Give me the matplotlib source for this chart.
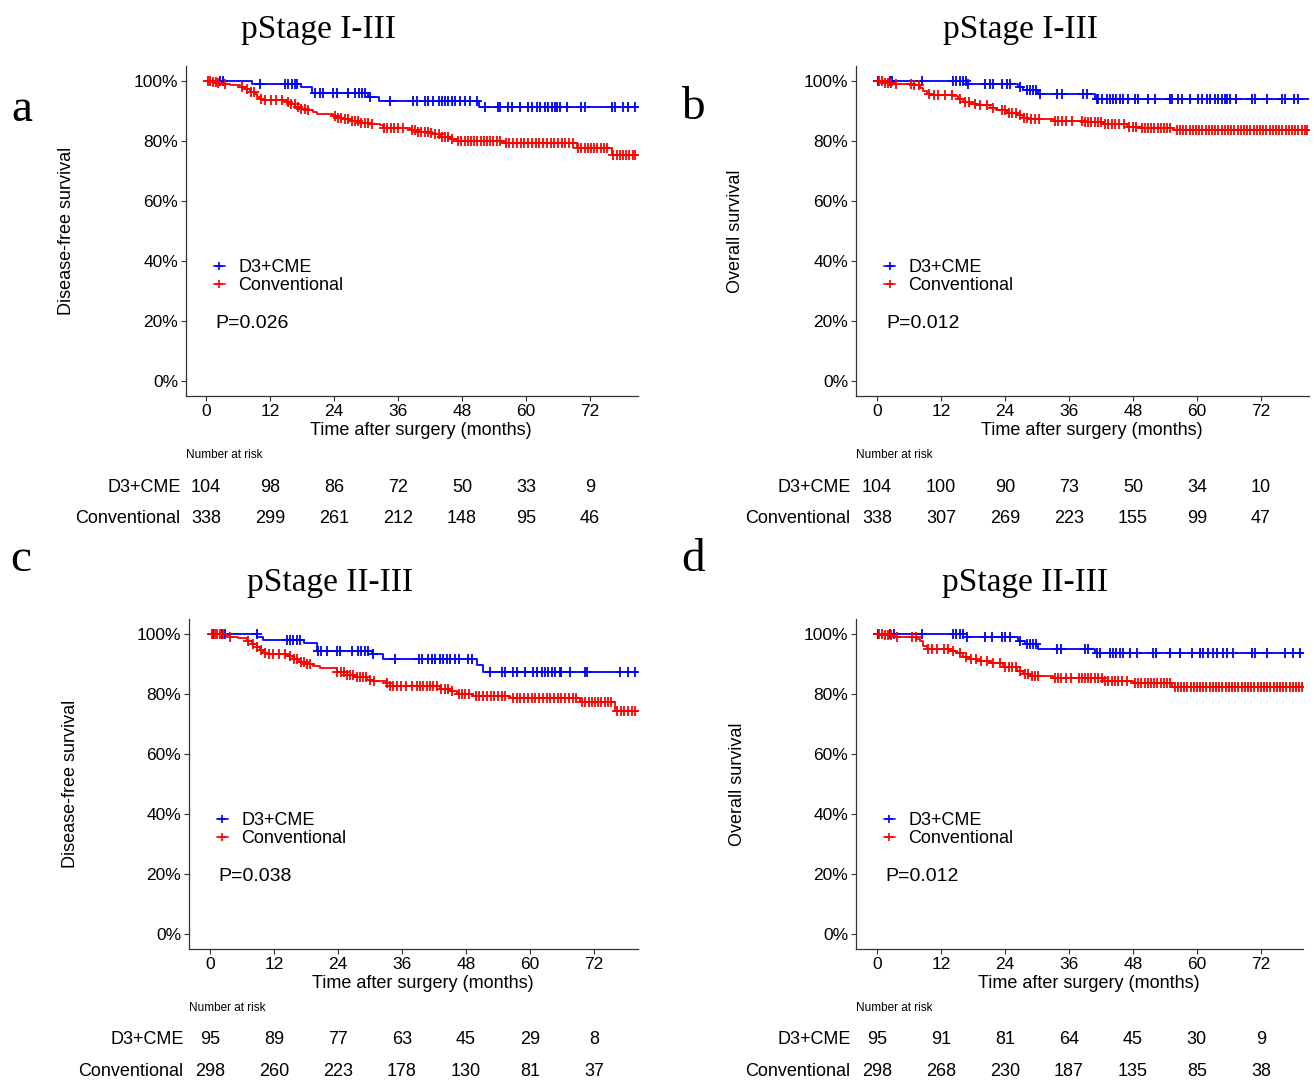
import numpy as np
import matplotlib
matplotlib.use("Agg")
import matplotlib.pyplot as plt
from matplotlib.lines import Line2D
from matplotlib.ticker import PercentFormatter
from matplotlib.transforms import blended_transform_factory

plt.rcParams['font.family'] = ['Liberation Sans', 'DejaVu Sans']

W, H = 1314, 1084

# ---- data (months, survival fraction) ----
risk_times = [0, 12, 24, 36, 48, 60, 72]

# panel a: DFS, pStage I-III
a_d3_t = [8.6, 17.75, 19.8, 30.4, 32.5, 51.1]
a_d3_s = [0.991, 0.979, 0.959, 0.948, 0.933, 0.913]
a_d3_cens = [2.6, 3.1, 10.1, 14.8, 15.4, 16.1, 16.7, 17.1, 20.4, 21.4, 22.0, 23.9, 24.5,
             26.7, 27.9, 28.6, 29.2, 29.8, 30.75, 34.5, 38.9, 39.5, 41.1, 41.7, 42.6, 43.6,
             44.2, 44.8, 45.4, 46.1, 46.7, 47.6, 48.6, 49.5, 50.75, 52.3, 54.8, 55.1, 56.7,
             57.3, 58.9, 60.4, 61.1, 62.0, 62.6, 63.6, 64.2, 64.8, 65.4, 65.75, 66.4, 67.6,
             70.4, 71.1, 76.1, 76.7, 78.25, 79.2, 80.4]
a_conv_t = [1.0, 2.0, 3.25, 4.5, 6.4, 7.3, 8.25, 9.2, 9.5, 10.1, 10.7, 15.1, 15.75, 16.7,
            17.6, 18.9, 20.1, 20.75, 23.9, 24.5, 25.75, 27.0, 28.9, 30.75, 32.6, 33.25,
            38.25, 39.5, 42.0, 42.6, 43.9, 45.75, 47.0, 55.75, 69.5, 76.1]
a_conv_s = [0.997, 0.994, 0.991, 0.988, 0.980, 0.972, 0.964, 0.956, 0.947, 0.941, 0.936,
            0.931, 0.922, 0.914, 0.908, 0.902, 0.898, 0.891, 0.883, 0.878, 0.872, 0.867,
            0.861, 0.856, 0.852, 0.844, 0.837, 0.831, 0.828, 0.822, 0.813, 0.806, 0.800,
            0.794, 0.778, 0.753]
a_conv_cens = [0.3, 0.8, 1.3, 1.8, 2.3, 3.5, 6.8, 7.6, 8.4, 9.0, 10.4, 11.0, 12.2, 13.1, 14.3,
               15.3, 16.0, 16.6, 17.2, 17.9, 18.5, 19.1, 24.2, 24.8, 25.4, 26.0, 26.6, 27.3,
               27.9, 28.5, 29.1, 29.8, 30.4, 31.1, 33.4, 34.0, 34.6, 35.2, 36.0, 37.0, 38.6,
               39.2, 39.8, 40.4, 41.0, 41.6, 42.2, 43.0, 43.6, 44.2, 44.8, 45.4, 46.1, 47.3,
               47.9, 48.5, 49.1, 49.7, 50.3, 50.9, 51.5, 52.1, 52.7, 53.3, 53.9, 54.5, 55.1,
               56.2, 56.9, 57.6, 58.3, 59.0, 59.7, 60.4, 61.1, 61.8, 62.5, 63.2, 63.9, 64.6,
               65.3, 66.0, 66.7, 67.4, 68.1, 68.8, 69.8, 70.4, 71.0, 71.6, 72.2, 72.8, 73.4,
               74.0, 74.6, 75.2, 76.4, 77.0, 77.6, 78.2, 78.8, 79.4, 80.0, 80.5]
a_risk_d3 = [104, 98, 86, 72, 50, 33, 9]
a_risk_conv = [338, 299, 261, 212, 148, 95, 46]

# panel b: OS, pStage I-III
b_d3_t = [16.8, 26.5, 27.4, 30.25, 40.9]
b_d3_s = [0.991, 0.980, 0.969, 0.956, 0.939]
b_d3_cens = [0.25, 2.4, 2.9, 8.4, 14.3, 14.9, 15.6, 16.2, 16.7, 17.1, 20.25, 21.2, 21.8, 23.4,
             24.3, 24.9, 26.8, 28.1, 28.7, 29.3, 29.9, 30.6, 33.7, 34.6, 38.7, 39.3, 41.2,
             41.5, 42.1, 43.1, 43.7, 44.3, 44.9, 45.6, 46.2, 47.1, 48.4, 49.0, 50.9, 52.1,
             54.9, 55.25, 56.5, 57.1, 58.7, 60.25, 60.9, 61.8, 62.4, 63.4, 64.0, 64.6, 65.25,
             65.6, 66.2, 67.4, 70.25, 70.9, 73.1, 75.9, 76.5, 78.1, 79.0]
b_conv_t = [1.2, 3.1, 4.9, 6.5, 8.1, 8.7, 9.3, 9.9, 14.3, 15.25, 16.2, 17.4, 18.7, 21.2, 22.4,
            24.3, 26.2, 27.4, 28.4, 33.1, 38.7, 42.4, 46.8, 49.3, 55.6]
b_conv_s = [0.994, 0.991, 0.989, 0.986, 0.978, 0.967, 0.956, 0.953, 0.949, 0.939, 0.931,
            0.924, 0.920, 0.911, 0.902, 0.892, 0.886, 0.878, 0.872, 0.867, 0.863, 0.856,
            0.848, 0.842, 0.836]
b_conv_cens = [0.4, 0.9, 1.5, 2.0, 2.6, 3.6, 6.3, 7.0, 7.8, 9.8, 10.6, 11.5, 12.8, 14.0, 15.6,
               16.5, 17.3, 18.3, 19.4, 20.6, 21.8, 23.4, 24.0, 24.7, 25.4, 26.0, 26.8, 27.6,
               28.2, 28.9, 29.6, 30.3, 33.3, 33.9, 34.6, 35.5, 36.5, 38.4, 39.0, 39.6, 40.2,
               40.8, 41.4, 42.0, 42.8, 43.4, 44.0, 44.7, 45.4, 46.4, 47.2, 48.0, 48.6, 49.6,
               50.2, 50.8, 51.4, 52.0, 52.6, 53.2, 53.8, 54.4, 55.0, 56.2, 56.8, 57.4, 58.0,
               58.6, 59.2, 59.8, 60.4, 61.0, 61.6, 62.2, 62.8, 63.4, 64.0, 64.6, 65.2, 65.8,
               66.4, 67.0, 67.6, 68.2, 68.8, 69.4, 70.0, 70.6, 71.2, 71.8, 72.4, 73.0, 73.6,
               74.2, 74.8, 75.4, 76.0, 76.6, 77.2, 77.8, 78.4, 79.0, 79.6, 80.2, 80.7]
b_risk_d3 = [104, 100, 90, 73, 50, 34, 10]
b_risk_conv = [338, 307, 269, 223, 155, 99, 47]

# panel c: DFS, pStage II-III
c_d3_t = [8.9, 10.0, 17.6, 20.0, 30.3, 32.5, 50.0, 51.25]
c_d3_s = [0.989, 0.979, 0.970, 0.944, 0.933, 0.916, 0.898, 0.874]
c_d3_cens = [0.6, 2.2, 2.8, 8.75, 14.4, 15.0, 15.6, 16.25, 16.9, 20.3, 20.9, 21.9, 23.75, 24.4,
             26.6, 27.8, 28.4, 29.1, 29.7, 30.6, 34.7, 39.1, 39.7, 40.9, 41.6, 42.2, 43.1,
             43.75, 44.4, 45.0, 45.9, 46.6, 48.4, 49.1, 52.5, 54.7, 55.3, 56.9, 57.5, 59.1,
             60.6, 61.25, 62.2, 62.8, 63.4, 64.1, 64.7, 65.6, 65.9, 67.5, 70.3, 70.6, 76.9,
             78.4, 79.7]
c_conv_t = [2.5, 3.75, 5.3, 6.9, 7.8, 8.75, 9.4, 10.0, 10.9, 14.4, 15.6, 16.6, 18.1, 19.4,
            20.6, 23.75, 25.6, 27.2, 29.4, 30.6, 33.1, 33.75, 43.1, 45.0, 46.25, 49.4, 56.25,
            69.4, 75.9]
c_conv_s = [0.997, 0.991, 0.986, 0.976, 0.967, 0.958, 0.947, 0.937, 0.933, 0.928, 0.917,
            0.906, 0.900, 0.894, 0.887, 0.872, 0.864, 0.856, 0.848, 0.842, 0.836, 0.828,
            0.817, 0.809, 0.800, 0.794, 0.787, 0.772, 0.744]
c_conv_cens = [0.4, 0.9, 1.4, 1.9, 2.4, 3.8, 7.2, 8.0, 8.9, 9.6, 10.3, 11.0, 11.9, 13.0, 14.1,
               15.0, 15.8, 16.4, 17.0, 17.6, 18.2, 18.8, 23.9, 24.5, 25.1, 25.7, 26.3, 26.9,
               27.5, 28.1, 28.7, 29.3, 30.0, 30.8, 33.2, 33.8, 34.4, 35.0, 35.8, 36.8, 37.8,
               38.8, 39.4, 40.0, 40.6, 41.2, 41.8, 42.5, 43.4, 44.0, 44.7, 45.4, 46.6, 47.3,
               47.9, 48.6, 49.8, 50.5, 51.2, 51.9, 52.6, 53.3, 54.0, 54.7, 55.4, 56.8, 57.5,
               58.2, 58.9, 59.6, 60.3, 61.0, 61.7, 62.4, 63.1, 63.8, 64.5, 65.2, 65.9, 66.6,
               67.3, 68.0, 68.7, 69.8, 70.4, 71.0, 71.6, 72.2, 72.8, 73.4, 74.0, 74.6, 75.2,
               76.3, 77.0, 77.7, 78.4, 79.1, 79.7]
c_risk_d3 = [95, 89, 77, 63, 45, 29, 8]
c_risk_conv = [298, 260, 223, 178, 130, 81, 37]

# panel d: OS, pStage II-III
d_d3_t = [16.8, 26.5, 27.75, 30.25, 40.9]
d_d3_s = [0.991, 0.978, 0.967, 0.950, 0.936]
d_d3_cens = [0.25, 2.4, 3.1, 8.4, 14.3, 14.9, 15.6, 16.2, 16.8, 20.25, 21.5, 23.4, 24.0, 24.9,
             26.8, 28.1, 28.7, 29.3, 29.9, 33.7, 34.6, 39.0, 39.6, 41.2, 41.8, 43.7, 44.3,
             44.9, 45.6, 46.2, 47.4, 48.7, 51.8, 52.4, 54.9, 56.8, 59.0, 60.6, 61.2, 62.1,
             63.1, 63.7, 64.9, 65.6, 66.8, 70.25, 70.9, 73.1, 76.5, 78.1, 79.3]
d_conv_t = [1.2, 3.1, 6.2, 7.4, 8.1, 8.7, 9.3, 13.7, 14.9, 16.2, 17.4, 18.7, 21.2, 23.7, 26.2,
            27.4, 28.7, 33.1, 42.4, 48.1, 55.25]
d_conv_s = [0.997, 0.991, 0.989, 0.983, 0.976, 0.961, 0.950, 0.944, 0.936, 0.924, 0.917,
            0.911, 0.902, 0.889, 0.878, 0.867, 0.861, 0.853, 0.844, 0.836, 0.824]
d_conv_cens = [0.4, 0.9, 1.5, 2.0, 2.7, 3.8, 6.5, 7.3, 9.6, 10.4, 11.2, 12.5, 13.3, 14.2, 15.5,
               16.6, 17.6, 18.5, 19.5, 20.6, 21.8, 23.0, 24.0, 24.7, 25.4, 26.0, 26.8, 27.8,
               28.4, 29.0, 29.6, 30.2, 33.4, 34.0, 34.6, 35.4, 36.4, 37.8, 38.4, 39.0, 39.6,
               40.2, 40.8, 41.4, 42.2, 42.8, 43.4, 44.0, 44.6, 45.2, 46.0, 46.8, 48.4, 49.0,
               49.6, 50.2, 50.8, 51.4, 52.0, 52.6, 53.2, 53.8, 54.4, 55.0, 55.8, 56.4, 57.0,
               57.6, 58.2, 58.8, 59.4, 60.0, 60.6, 61.2, 61.8, 62.4, 63.0, 63.6, 64.2, 64.8,
               65.4, 66.0, 66.6, 67.2, 67.8, 68.4, 69.0, 69.6, 70.2, 70.8, 71.4, 72.0, 72.6,
               73.2, 73.8, 74.4, 75.0, 75.6, 76.2, 76.8, 77.4, 78.0, 78.6, 79.2, 79.7]
d_risk_d3 = [95, 91, 81, 64, 45, 30, 9]
d_risk_conv = [298, 268, 230, 187, 135, 85, 38]

groups = ['D3+CME', 'Conventional']
colors = ['blue', 'red']

panels = [
    dict(letter='a', title='pStage I-III', ylabel='Disease-free survival', p='P=0.026',
         d3=(a_d3_t, a_d3_s, a_d3_cens), conv=(a_conv_t, a_conv_s, a_conv_cens),
         risk=(a_risk_d3, a_risk_conv),
         box=(186, 66, 638, 396), xlim=(-3.75, 81.0), title_x=318, letter_xy=(22, 110)),
    dict(letter='b', title='pStage I-III', ylabel='Overall survival', p='P=0.012',
         d3=(b_d3_t, b_d3_s, b_d3_cens), conv=(b_conv_t, b_conv_s, b_conv_cens),
         risk=(b_risk_d3, b_risk_conv),
         box=(856, 66, 1309, 396), xlim=(-3.94, 81.0), title_x=1020, letter_xy=(693, 108)),
    dict(letter='c', title='pStage II-III', ylabel='Disease-free survival', p='P=0.038',
         d3=(c_d3_t, c_d3_s, c_d3_cens), conv=(c_conv_t, c_conv_s, c_conv_cens),
         risk=(c_risk_d3, c_risk_conv),
         box=(189, 619, 638, 949), xlim=(-3.94, 80.25), title_x=330, letter_xy=(21, 560)),
    dict(letter='d', title='pStage II-III', ylabel='Overall survival', p='P=0.012',
         d3=(d_d3_t, d_d3_s, d_d3_cens), conv=(d_conv_t, d_conv_s, d_conv_cens),
         risk=(d_risk_d3, d_risk_conv),
         box=(856, 619, 1303, 949), xlim=(-3.94, 79.9), title_x=1025, letter_xy=(693, 560)),
]

fig = plt.figure(figsize=(W / 100, H / 100), dpi=100)


def km_curve(ax, times, surv, cens, end, color):
    xs = [0] + list(times) + [end]
    ys = [1.0] + list(surv) + [surv[-1]]
    ax.step(xs, ys, where='post', color=color, lw=1.3, zorder=3)
    levels = np.array([1.0] + list(surv))
    cy = levels[np.searchsorted(times, cens, side='right')]
    ax.plot(cens, cy, ls='none', marker='+', ms=6.5, mew=1.3, color=color, zorder=4)


for pan in panels:
    l, t, r, b = pan['box']
    ax = fig.add_axes([l / W, 1 - b / H, (r - l) / W, (b - t) / H])
    end = pan['xlim'][1]
    km_curve(ax, *pan['d3'], end, colors[0])
    km_curve(ax, *pan['conv'], end, colors[1])

    ax.set_xlim(*pan['xlim'])
    ax.set_ylim(-0.05, 1.05)
    ax.set_xticks(risk_times)
    ax.set_yticks([0, 0.2, 0.4, 0.6, 0.8, 1.0])
    ax.yaxis.set_major_formatter(PercentFormatter(xmax=1, decimals=0))
    for side in ['top', 'right']:
        ax.spines[side].set_visible(False)
    for side in ['left', 'bottom']:
        ax.spines[side].set_color('#333333')
        ax.spines[side].set_linewidth(0.9)
    ax.tick_params(labelsize=12.5, length=3.5, width=0.8, color='#333333', pad=2, labelcolor='black')
    ax.set_xlabel('Time after surgery (months)', fontsize=13, labelpad=2.5)
    ax.xaxis.label.set_x(0.52)
    ax.set_ylabel(pan['ylabel'], fontsize=13)
    ax.yaxis.label.set_va('center')
    ax.yaxis.set_label_coords(-0.265, 0.5)

    handles = [Line2D([], [], color=c, lw=1.1, marker='+', ms=6, mew=1.2) for c in colors]
    ax.legend(handles, groups, loc='upper left', bbox_to_anchor=(0.062, 0.415), frameon=False,
              fontsize=13, handlelength=0.6, handletextpad=0.75, labelspacing=0.08,
              borderpad=0, borderaxespad=0)
    ax.text(0.066, 0.221, pan['p'], transform=ax.transAxes, fontsize=14, va='center', ha='left')

    # titles and panel letters
    fig.text(pan['title_x'] / W, 1 - (t - 36) / H, pan['title'], family='Liberation Serif',
             fontsize=24, ha='center', va='center')
    lx, ly = pan['letter_xy']
    fig.text(lx / W, 1 - ly / H, pan['letter'], family='Liberation Serif', fontsize=34,
             ha='center', va='center')

    # number at risk table
    tr = blended_transform_factory(ax.transData, fig.transFigure)
    tra = blended_transform_factory(ax.transAxes, fig.transFigure)
    ax.text(0.0, 1 - (b + 59) / H, 'Number at risk', transform=tra, fontsize=8.5,
            ha='left', va='center', clip_on=False)
    for k, (name, row) in enumerate(zip(groups, pan['risk'])):
        yy = 1 - (b + 91 + 31 * k) / H
        ax.text(-0.012, yy, name, transform=tra, fontsize=13, ha='right', va='center', clip_on=False)
        for tx, n in zip(risk_times, row):
            ax.text(tx, yy, str(n), transform=tr, fontsize=13, ha='center', va='center', clip_on=False)

fig.savefig('out.png', dpi=100)
